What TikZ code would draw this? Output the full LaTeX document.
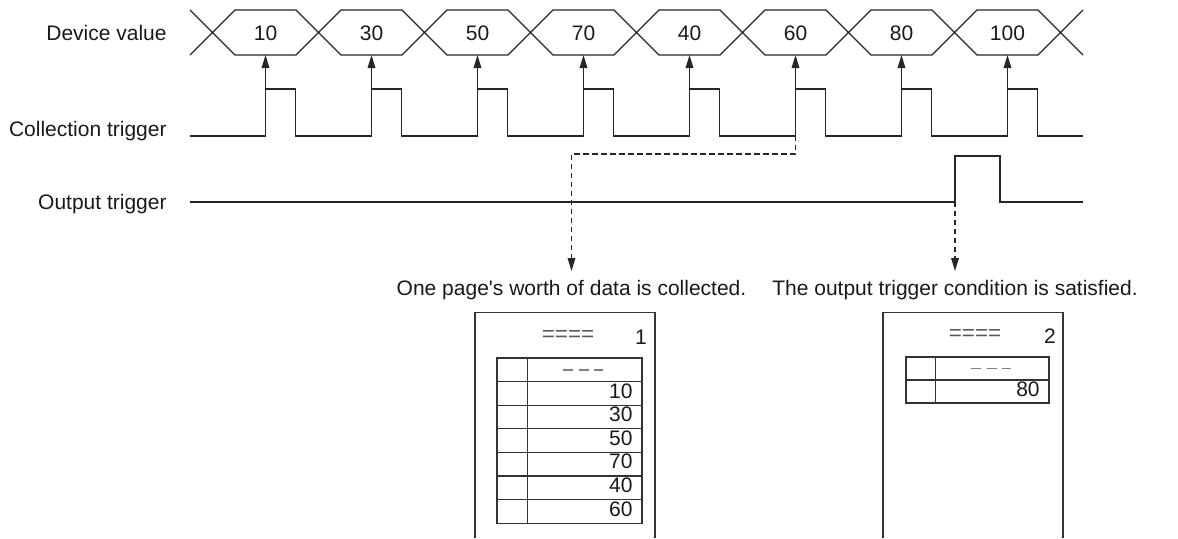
\documentclass[tikz,border=0pt]{standalone}
\usepackage{fontspec}
\setmainfont{Liberation Sans}[Ligatures=TeXOff]
\usetikzlibrary{arrows.meta, positioning, calc}

\begin{document}
\begin{tikzpicture}[
    x=0.5pt, y=-0.5pt,
    every node/.style={font=\fontsize{10.5}{12.6}\selectfont, text=black!90, inner sep=0pt},
    wave/.style={line width=0.65pt, black!85},
    arrow/.style={-{Triangle[length=6.5pt, width=3.8pt]}, line width=0.65pt, black!85},
    dashedarrow/.style={arrow, dash pattern=on 2.6pt off 1.9pt},
    siglabel/.style={anchor=base east},
    page/.style={line width=0.65pt, black!80},
    grid/.style={line width=0.6pt, black!80},
    blank/.style={font=\fontsize{11.2}{13}\selectfont, text=black!65},
    blankdash/.style={line width=0.8pt, black!50, dash pattern=on 5pt off 2.8pt}
]

\useasboundingbox (0,0) rectangle (1178,538);

% ============ SIGNAL NAMES ============
\node[siglabel] (devlabel) at (167,40) {Device value};
\node[siglabel] (collabel) at (167,136) {Collection trigger};
\node[siglabel] (outlabel) at (167,209.5) {Output trigger};

% ============ DEVICE VALUE (BUS) ============
\coordinate (busbot) at (0,55);
\foreach \v [count=\i] in {10,30,50,70,40,60,80,100} {
    \pgfmathsetmacro{\xl}{212.5+106*(\i-1)}
    \draw[wave] (\xl,32.5) -- ++(22.5,-22.5) -- ++(61,0) -- ++(22.5,22.5)
                -- ++(-22.5,22.5) -- ++(-61,0) -- cycle;
    \node[anchor=base] (val\i) at (\xl+53,40) {\v};
}
\draw[wave] (190,10) -- (212.5,32.5) -- (190,55);
\draw[wave] (1083,10) -- (1060.5,32.5) -- (1083,55);

% ============ COLLECTION TRIGGER ============
\draw[wave] (190,136)
    \foreach \i in {0,...,7} { -- ({265.5+106*\i},136) -- ++(0,-47) -- ++(30,0) -- ++(0,47) }
    -- (1083,136);

% sampling arrows
\foreach \i in {1,...,8} {
    \coordinate (rise\i) at ({265.5+106*(\i-1)},136);
    \draw[arrow] (rise\i) -- (rise\i |- busbot);
}

% ============ OUTPUT TRIGGER ============
\coordinate (outrise) at (955,202);
\draw[wave] (190,202) -- (outrise) -- ++(0,-46) -- ++(45,0) -- ++(0,46) -- (1083,202);

% ============ RESULTS ============
\node[anchor=base] (note1) at (571.5,295) {One page's worth of data is collected.};
\node[anchor=base] (note2) at (955,295) {The output trigger condition is satisfied.};
\coordinate (tip1) at (571.5,271);
\coordinate (tip2) at (955,271);

\draw[dashedarrow] (rise6) -- ++(0,18) -| (tip1);
\draw[dashedarrow] (outrise) -- (tip2);

% Page 1
\draw[page] (475,538) |- (655,312.5) -- (655,538);
\node[blank] (title1) at (568,336) {====};
\node[anchor=base] (num1) at (641,344) {1};
\draw[grid] (497,358) rectangle (642,523.2);
\draw[grid] (527.5,358) -- (527.5,523.2);
\draw[blankdash] (563,370) -- (603,370);
\foreach \v [count=\r] in {10,30,50,70,40,60} {
    \draw[grid] (497,{358+23.6*\r}) -- (642,{358+23.6*\r});
    \node[anchor=base east] (row1\r) at (633,{374.5+23.6*\r}) {\v};
}

% Page 2
\draw[page] (883,538) |- (1063,312.5) -- (1063,538);
\node[blank] (title2) at (975,335) {====};
\node[anchor=base] (num2) at (1050,343) {2};
\draw[grid] (906,357) rectangle (1049,403);
\draw[grid] (935.5,357) -- (935.5,403);
\draw[grid] (906,380) -- (1049,380);
\draw[blankdash] (971,368.5) -- (1011,368.5);
\node[anchor=base east] (row21) at (1040,396.5) {80};

\end{tikzpicture}
\end{document}
